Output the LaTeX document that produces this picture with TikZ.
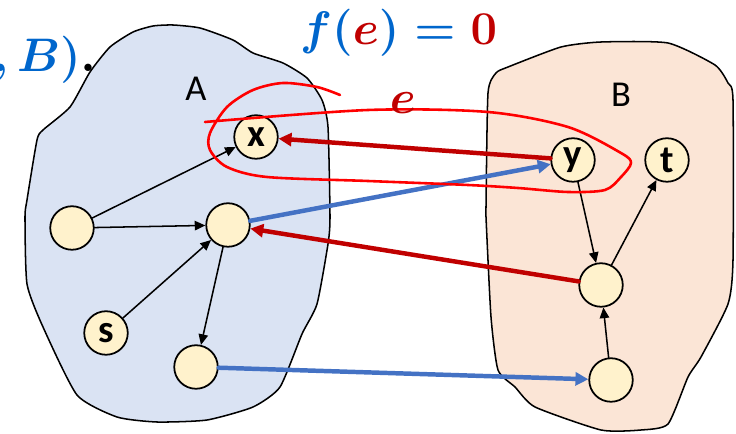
\RequirePackage{fix-cm}
\documentclass[tikz,border=0pt]{standalone}
\usepackage{amsmath,amssymb,bm}
\usepackage{fontspec}
\setsansfont{Carlito}
\usetikzlibrary{arrows.meta}
\definecolor{SideA}{HTML}{DAE3F3}
\definecolor{SideB}{HTML}{FBE5D6}
\definecolor{VertexFill}{HTML}{FFF2CC}
\definecolor{CutBlue}{HTML}{4472C4}
\definecolor{CutRed}{HTML}{C00000}
\definecolor{LoopRed}{HTML}{FF0000}
\definecolor{FormulaBlue}{HTML}{0066CC}
\tikzset{
    cut/diagram/.style={
        x=0.85pt, y=-0.85pt,
        line cap=round,
        line join=round,
        >=Triangle
    },
    cut/sideA/.style={draw=black, fill=SideA, line width=1.3pt},
    cut/sideB/.style={draw=black, fill=SideB, line width=1.3pt},
    cut/vertex/.style={
        circle, draw=black, fill=VertexFill, line width=1.5pt,
        minimum size=37pt, inner sep=0pt,
        font=\sffamily\bfseries\fontsize{33}{35}\selectfont
    },
    cut/link/.style={
        draw=black, line width=1.3pt,
        -{Triangle[length=9pt, width=8pt]}
    },
    cut/forward/.style={
        draw=CutBlue, line width=3.8pt,
        -{Triangle[length=11pt, width=11pt]}
    },
    cut/backward/.style={
        draw=CutRed, line width=3.8pt,
        -{Triangle[length=11pt, width=11pt]}
    },
    cut/loop/.style={draw=LoopRed, line width=2.2pt},
    cut/setname/.style={font=\sffamily\fontsize{31}{33}\selectfont},
    cut/formula/.style={inner sep=0pt, font=\fontsize{40}{44}\selectfont\boldmath}
}

\begin{document}
\begin{tikzpicture}[cut/diagram]
    \useasboundingbox (0,0) rectangle (736,434);
    % the two sides of the cut
    \draw[cut/sideA] plot[smooth cycle, tension=0.35] coordinates {
        (90,72) (110,47) (133,32) (153,26) (173,25) (200,28) (233,40)
        (253,53) (283,63) (307,78) (322,100) (328,127) (330,217)
        (328,244) (317,304) (302,334) (280,387) (253,407) (207,420)
        (157,422) (117,417) (77,395) (43,327) (27,284) (25,217)
        (27,200) (37,140) (43,130) (70,107)};
    \draw[cut/sideB] plot[smooth cycle, tension=0.35] coordinates {
        (496,73) (508,67) (561,47) (601,42) (668,43) (715,65) (728,83)
        (733,100) (733,260) (728,304) (701,357) (688,377) (668,424)
        (641,430) (601,430) (535,407) (515,387) (498,370) (491,317)
        (486,217) (486,207) (488,93)};
    \node[cut/setname] (nameA) at (196,89) {A};
    \node[cut/setname] (nameB) at (621,95) {B};
    % vertices
    \node[cut/vertex] (x) at (256,137) {x};
    \node[cut/vertex] (left) at (72,228) {};
    \node[cut/vertex] (mid) at (228,225) {};
    \node[cut/vertex] (s) at (106,333) {s};
    \node[cut/vertex] (low) at (196,367) {};
    \node[cut/vertex] (y) at (573,160) {y};
    \node[cut/vertex] (t) at (667,160) {t};
    \node[cut/vertex] (right) at (601,285) {};
    \node[cut/vertex] (lowright) at (611,380) {};
    % edges inside the sides
    \draw[cut/link] (left) -- (x);
    \draw[cut/link] (left) -- (mid);
    \draw[cut/link] (s) -- (mid);
    \draw[cut/link] (mid) -- (low);
    \draw[cut/link] (y) -- (right);
    \draw[cut/link] (right) -- (t);
    \draw[cut/link] (lowright) -- (right);
    % edges across the cut
    \draw[cut/forward] (mid) -- (y);
    \draw[cut/forward] (low) -- (lowright);
    \draw[cut/backward] (y) -- (x);
    \draw[cut/backward] (right) -- (mid);
    % the marked edge
    \draw[cut/loop] plot[smooth, tension=0.5] coordinates {
        (205,122) (368,110) (488,112) (568,127) (621,153) (631,163)
        (621,177) (605,190) (568,192) (518,188) (468,185) (368,181)
        (267,177) (227,167) (210,150) (210,133) (227,107) (253,90)
        (283,83) (317,87) (340,95)};
    \node[cut/formula, text=CutRed] (elabel) at (403,103) {$e$};
    \node[cut/formula, anchor=base west] (flow) at (300,45)
        {$\color{FormulaBlue}f(\color{CutRed}e\color{FormulaBlue})=\color{CutRed}0$};
    \node[cut/formula, anchor=base east] (tail) at (96,72)
        {$\color{FormulaBlue},B)\color{black}.$};
\end{tikzpicture}
\end{document}
